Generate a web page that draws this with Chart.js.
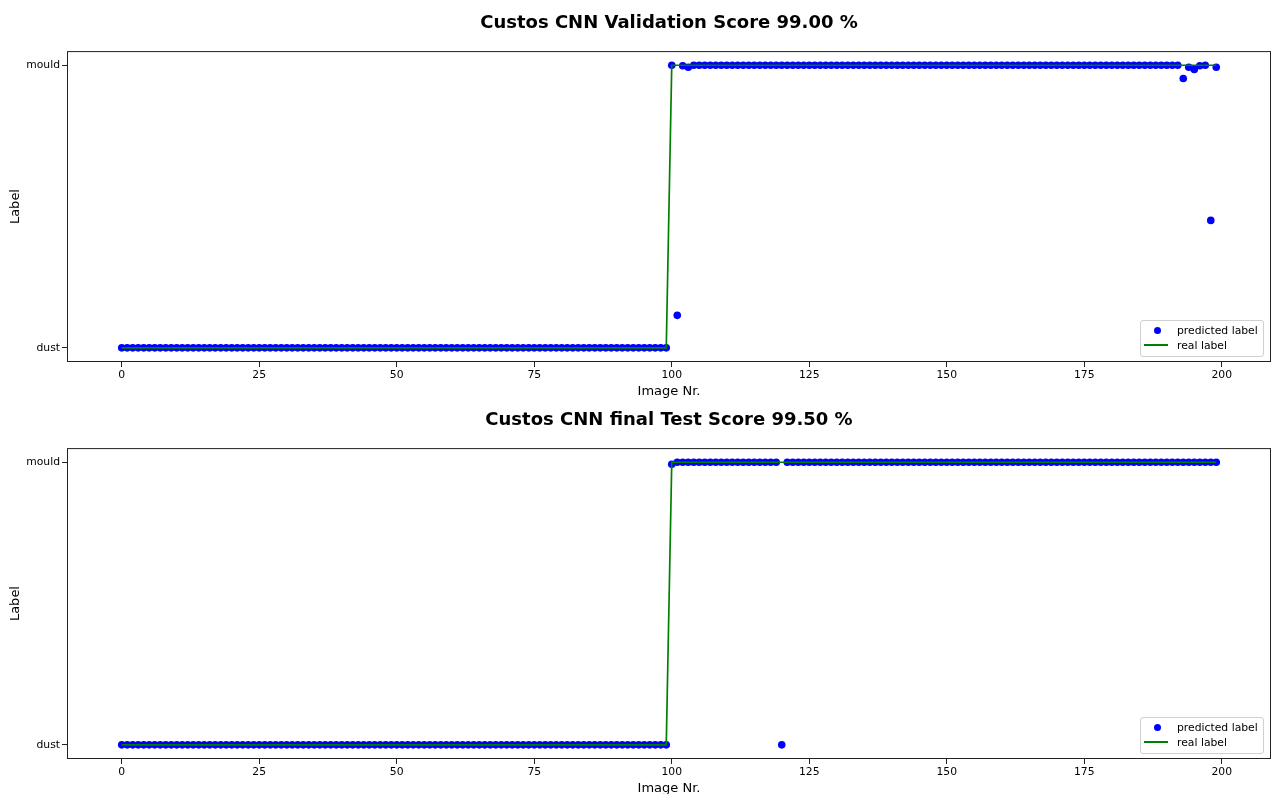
<!DOCTYPE html>
<html>
<head>
<meta charset="utf-8">
<title>Custos CNN scores</title>
<script src="https://cdn.jsdelivr.net/npm/chart.js@4.4.0/dist/chart.umd.min.js"></script>
<style>
  html, body { margin: 0; padding: 0; background: #fff; overflow: hidden; }
  body { width: 1271px; height: 794px; position: relative; font-family: 'DejaVu Sans', sans-serif; }
  .panel { position: absolute; left: 0; width: 1271px; height: 399px; overflow: hidden; }
  .panel canvas { display: block; }
  .legend { position: absolute; left: 1140px; top: 320px; width: 124px; height: 37px; box-sizing: border-box;
            border: 1px solid #d0d0d0; border-radius: 3px; background: rgba(255,255,255,0.8); font-size: 10.8px; color: #000; }
  .legend .dot { position: absolute; left: 12.5px; top: 6px; width: 7px; height: 7px; border-radius: 50%; background: #0000ff; }
  .legend .line { position: absolute; left: 3px; top: 23px; width: 24px; height: 2px; background: #008000; }
  .legend .txt { position: absolute; left: 36px; line-height: 13px; white-space: nowrap; }
</style>
</head>
<body>
<div class="panel" style="top:0">
  <canvas id="valChart" width="1275" height="399"></canvas>
  <div class="legend"><span class="dot"></span><span class="txt" style="top:3px">predicted label</span><span class="line"></span><span class="txt" style="top:18px">real label</span></div>
</div>
<div class="panel" style="top:397px">
  <canvas id="testChart" width="1275" height="399"></canvas>
  <div class="legend"><span class="dot"></span><span class="txt" style="top:3px">predicted label</span><span class="line"></span><span class="txt" style="top:18px">real label</span></div>
</div>
<script>
// class names on the y axis (0 = dust, 1 = mould)
const classNames = ['dust', 'mould'];
const xTicks = [0, 25, 50, 75, 100, 125, 150, 175, 200];

// validation set, image 0..199
const valReal = [
  0,0,0,0,0,0,0,0,0,0,0,0,0,0,0,0,0,0,0,0,
  0,0,0,0,0,0,0,0,0,0,0,0,0,0,0,0,0,0,0,0,
  0,0,0,0,0,0,0,0,0,0,0,0,0,0,0,0,0,0,0,0,
  0,0,0,0,0,0,0,0,0,0,0,0,0,0,0,0,0,0,0,0,
  0,0,0,0,0,0,0,0,0,0,0,0,0,0,0,0,0,0,0,0,
  1,1,1,1,1,1,1,1,1,1,1,1,1,1,1,1,1,1,1,1,
  1,1,1,1,1,1,1,1,1,1,1,1,1,1,1,1,1,1,1,1,
  1,1,1,1,1,1,1,1,1,1,1,1,1,1,1,1,1,1,1,1,
  1,1,1,1,1,1,1,1,1,1,1,1,1,1,1,1,1,1,1,1,
  1,1,1,1,1,1,1,1,1,1,1,1,1,1,1,1,1,1,1,1
];
const valPredicted = [
  0,0,0,0,0,0,0,0,0,0,0,0,0,0,0,0,0,0,0,0,
  0,0,0,0,0,0,0,0,0,0,0,0,0,0,0,0,0,0,0,0,
  0,0,0,0,0,0,0,0,0,0,0,0,0,0,0,0,0,0,0,0,
  0,0,0,0,0,0,0,0,0,0,0,0,0,0,0,0,0,0,0,0,
  0,0,0,0,0,0,0,0,0,0,0,0,0,0,0,0,0,0,0,0,
  1,0.115,0.998,0.993,1,1,1,1,1,1,1,1,1,1,1,1,1,1,1,1,
  1,1,1,1,1,1,1,1,1,1,1,1,1,1,1,1,1,1,1,1,
  1,1,1,1,1,1,1,1,1,1,1,1,1,1,1,1,1,1,1,1,
  1,1,1,1,1,1,1,1,1,1,1,1,1,1,1,1,1,1,1,1,
  1,1,1,1,1,1,1,1,1,1,1,1,1,0.953,0.993,0.985,0.998,1,0.451,0.993
];

// final test set, image 0..199
const testReal = [
  0,0,0,0,0,0,0,0,0,0,0,0,0,0,0,0,0,0,0,0,
  0,0,0,0,0,0,0,0,0,0,0,0,0,0,0,0,0,0,0,0,
  0,0,0,0,0,0,0,0,0,0,0,0,0,0,0,0,0,0,0,0,
  0,0,0,0,0,0,0,0,0,0,0,0,0,0,0,0,0,0,0,0,
  0,0,0,0,0,0,0,0,0,0,0,0,0,0,0,0,0,0,0,0,
  1,1,1,1,1,1,1,1,1,1,1,1,1,1,1,1,1,1,1,1,
  1,1,1,1,1,1,1,1,1,1,1,1,1,1,1,1,1,1,1,1,
  1,1,1,1,1,1,1,1,1,1,1,1,1,1,1,1,1,1,1,1,
  1,1,1,1,1,1,1,1,1,1,1,1,1,1,1,1,1,1,1,1,
  1,1,1,1,1,1,1,1,1,1,1,1,1,1,1,1,1,1,1,1
];
const testPredicted = [
  0,0,0,0,0,0,0,0,0,0,0,0,0,0,0,0,0,0,0,0,
  0,0,0,0,0,0,0,0,0,0,0,0,0,0,0,0,0,0,0,0,
  0,0,0,0,0,0,0,0,0,0,0,0,0,0,0,0,0,0,0,0,
  0,0,0,0,0,0,0,0,0,0,0,0,0,0,0,0,0,0,0,0,
  0,0,0,0,0,0,0,0,0,0,0,0,0,0,0,0,0,0,0,0,
  0.993,1,1,1,1,1,1,1,1,1,1,1,1,1,1,1,1,1,1,1,
  0,1,1,1,1,1,1,1,1,1,1,1,1,1,1,1,1,1,1,1,
  1,1,1,1,1,1,1,1,1,1,1,1,1,1,1,1,1,1,1,1,
  1,1,1,1,1,1,1,1,1,1,1,1,1,1,1,1,1,1,1,1,
  1,1,1,1,1,1,1,1,1,1,1,1,1,1,1,1,1,1,1,1
];

Chart.defaults.font.family = "'DejaVu Sans', sans-serif";
Chart.defaults.color = '#000';

// matplotlib-style box around the axes
const framePlugin = {
    id: 'frame',
    afterDraw(chart) {
        const a = chart.chartArea, ctx = chart.ctx;
        ctx.save();
        ctx.strokeStyle = '#222';
        ctx.lineWidth = 1;
        ctx.strokeRect(a.left + 0.5, a.top + 0.5, a.right - a.left - 1, a.bottom - a.top - 1);
        ctx.restore();
    }
};

function toPoints(values) {
    return values.map((v, i) => ({ x: i, y: v }));
}

function makeChart(id, title, real, predicted) {
    return new Chart(document.getElementById(id), {
        type: 'scatter',
        data: {
            datasets: [{
                label: 'real label',
                data: toPoints(real),
                showLine: true,
                borderColor: '#008000',
                borderWidth: 1.7,
                pointRadius: 0,
                order: 0
            }, {
                label: 'predicted label',
                data: toPoints(predicted),
                backgroundColor: '#0000ff',
                borderWidth: 0,
                pointRadius: 3.8,
                order: 1
            }]
        },
        options: {
            responsive: false,
            animation: false,
            events: [],
            layout: { padding: { left: 0, right: 1, top: 0, bottom: 0 } },
            plugins: {
                legend: { display: false },
                tooltip: { enabled: false },
                title: {
                    display: true,
                    fullSize: false,
                    text: title,
                    font: { size: 18, weight: 'bold' },
                    padding: { top: 13, bottom: 16.5 }
                }
            },
            scales: {
                x: {
                    type: 'linear',
                    min: -9.95,
                    max: 208.95,
                    afterBuildTicks: s => { s.ticks = xTicks.map(v => ({ value: v })); },
                    afterFit: s => { s.height = 37; s.paddingLeft = 0; s.paddingRight = 0; },
                    grid: { display: true, drawOnChartArea: false, tickLength: 5, color: '#222' },
                    border: { display: false },
                    ticks: { font: { size: 10.8 }, padding: 2, maxRotation: 0 },
                    title: { display: true, text: 'Image Nr.', font: { size: 13 }, padding: { top: 0, bottom: 0 } }
                },
                y: {
                    type: 'linear',
                    min: -0.05,
                    max: 1.05,
                    afterBuildTicks: s => { s.ticks = [{ value: 0 }, { value: 1 }]; },
                    afterFit: s => { s.width = 67; s.paddingTop = 0; s.paddingBottom = 0; },
                    grid: { display: true, drawOnChartArea: false, tickLength: 5, color: '#222' },
                    border: { display: false },
                    ticks: { font: { size: 10.8 }, padding: 2, callback: v => classNames[v] },
                    title: { display: true, text: 'Label', font: { size: 13 }, padding: { top: 8, bottom: 0 } }
                }
            }
        },
        plugins: [framePlugin]
    });
}

makeChart('valChart', 'Custos CNN Validation Score 99.00 %', valReal, valPredicted);
makeChart('testChart', 'Custos CNN final Test Score 99.50 %', testReal, testPredicted);
</script>
</body>
</html>
